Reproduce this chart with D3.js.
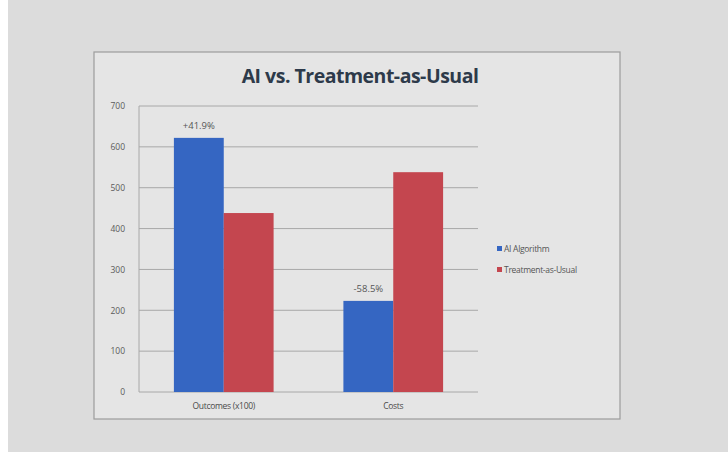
<!DOCTYPE html>
<html>
<head>
<meta charset="utf-8">
<script src="https://cdn.jsdelivr.net/npm/d3@7"></script>
<style>
  html, body { margin: 0; padding: 0; background: #ffffff; }
  svg { display: block; }
</style>
</head>
<body>
<svg id="chart" width="728" height="461"></svg>
<script>
const categories = ["Outcomes (x100)", "Costs"];
const seriesNames = ["AI Algorithm", "Treatment-as-Usual"];
const aiValues = [622, 223];
const tauValues = [438, 538];
const changeLabels = ["+41.9%", "-58.5%"];
const yTicks = [0, 100, 200, 300, 400, 500, 600, 700];
const colors = ["#3566c2", "#c4464f"];

const svg = d3.select("#chart");
const W = 728, H = 461;

// photo background
svg.append("rect").attr("x", 8).attr("y", 0).attr("width", W - 8).attr("height", 452)
  .attr("fill", "#dcdcdc");

// chart frame
svg.append("rect").attr("x", 94).attr("y", 52).attr("width", 526).attr("height", 367)
  .attr("fill", "#e5e5e5").attr("stroke", "#9c9c9c").attr("stroke-width", 1.2);

const plot = { left: 139, right: 478, top: 106, bottom: 392 };

const x0 = d3.scaleBand().domain(categories).range([plot.left, plot.right]).paddingInner(0.0).paddingOuter(0.0);
const x1 = d3.scaleBand().domain(seriesNames).range([0, x0.bandwidth()]).paddingInner(0).paddingOuter(0.7);
const y = d3.scaleLinear().domain([0, 700]).range([plot.bottom, plot.top]);

// gridlines
svg.append("g").selectAll("line").data(yTicks).join("line")
  .attr("x1", plot.left).attr("x2", plot.right)
  .attr("y1", d => y(d)).attr("y2", d => y(d))
  .attr("stroke", "#a8a8a8").attr("stroke-width", 1);

// y axis line
svg.append("line").attr("x1", plot.left).attr("x2", plot.left)
  .attr("y1", plot.top).attr("y2", plot.bottom)
  .attr("stroke", "#a8a8a8");

// y axis tick labels
const yAxis = d3.axisLeft(y).tickValues(yTicks).tickSize(0).tickPadding(14);
const gy = svg.append("g").attr("transform", `translate(${plot.left},0)`).call(yAxis);
gy.select(".domain").remove();
gy.selectAll("text").attr("font-family", "Open Sans, sans-serif").attr("font-size", 8.5).attr("fill", "#5a5a5a");

// x axis labels
const xAxis = d3.axisBottom(x0).tickSize(0).tickPadding(11);
const gx = svg.append("g").attr("transform", `translate(0,${plot.bottom})`).call(xAxis);
gx.select(".domain").remove();
gx.selectAll("text").attr("font-family", "Open Sans, sans-serif").attr("font-size", 8.5).attr("fill", "#4a4a4a")
  .attr("letter-spacing", -0.3);

// bars
const rows = categories.map((c, i) => ({ cat: c, vals: [aiValues[i], tauValues[i]] }));
const groups = svg.append("g").selectAll("g").data(rows).join("g")
  .attr("transform", d => `translate(${x0(d.cat)},0)`);
groups.selectAll("rect").data(d => d.vals.map((v, j) => ({ name: seriesNames[j], v, j }))).join("rect")
  .attr("x", d => x1(d.name))
  .attr("width", x1.bandwidth())
  .attr("y", d => y(d.v))
  .attr("height", d => y(0) - y(d.v))
  .attr("fill", d => colors[d.j]);

// change labels above AI bars
svg.append("g").selectAll("text").data(rows).join("text")
  .attr("x", (d) => x0(d.cat) + x1(seriesNames[0]) + x1.bandwidth() / 2)
  .attr("y", (d) => y(d.vals[0]) - 9)
  .attr("text-anchor", "middle")
  .attr("font-family", "Open Sans, sans-serif").attr("font-size", 9.5).attr("fill", "#555")
  .text((d, i) => changeLabels[i]);

// title
svg.append("text").attr("x", 360).attr("y", 83).attr("text-anchor", "middle")
  .attr("font-family", "Open Sans, sans-serif").attr("font-weight", "bold")
  .attr("font-size", 19.5).attr("fill", "#2d3a4a").attr("letter-spacing", -0.5)
  .text("AI vs. Treatment-as-Usual");

// legend
const lg = svg.append("g").attr("transform", "translate(497,247)");
const li = lg.selectAll("g").data(seriesNames).join("g").attr("transform", (d, i) => `translate(0,${i * 21})`);
li.append("rect").attr("width", 5).attr("height", 5).attr("y", -1).attr("fill", (d, i) => colors[i]);
li.append("text").attr("x", 7).attr("y", 4.5)
  .attr("font-family", "Open Sans, sans-serif").attr("font-size", 8.5).attr("fill", "#555")
  .attr("letter-spacing", -0.3)
  .text(d => d);
</script>
</body>
</html>
